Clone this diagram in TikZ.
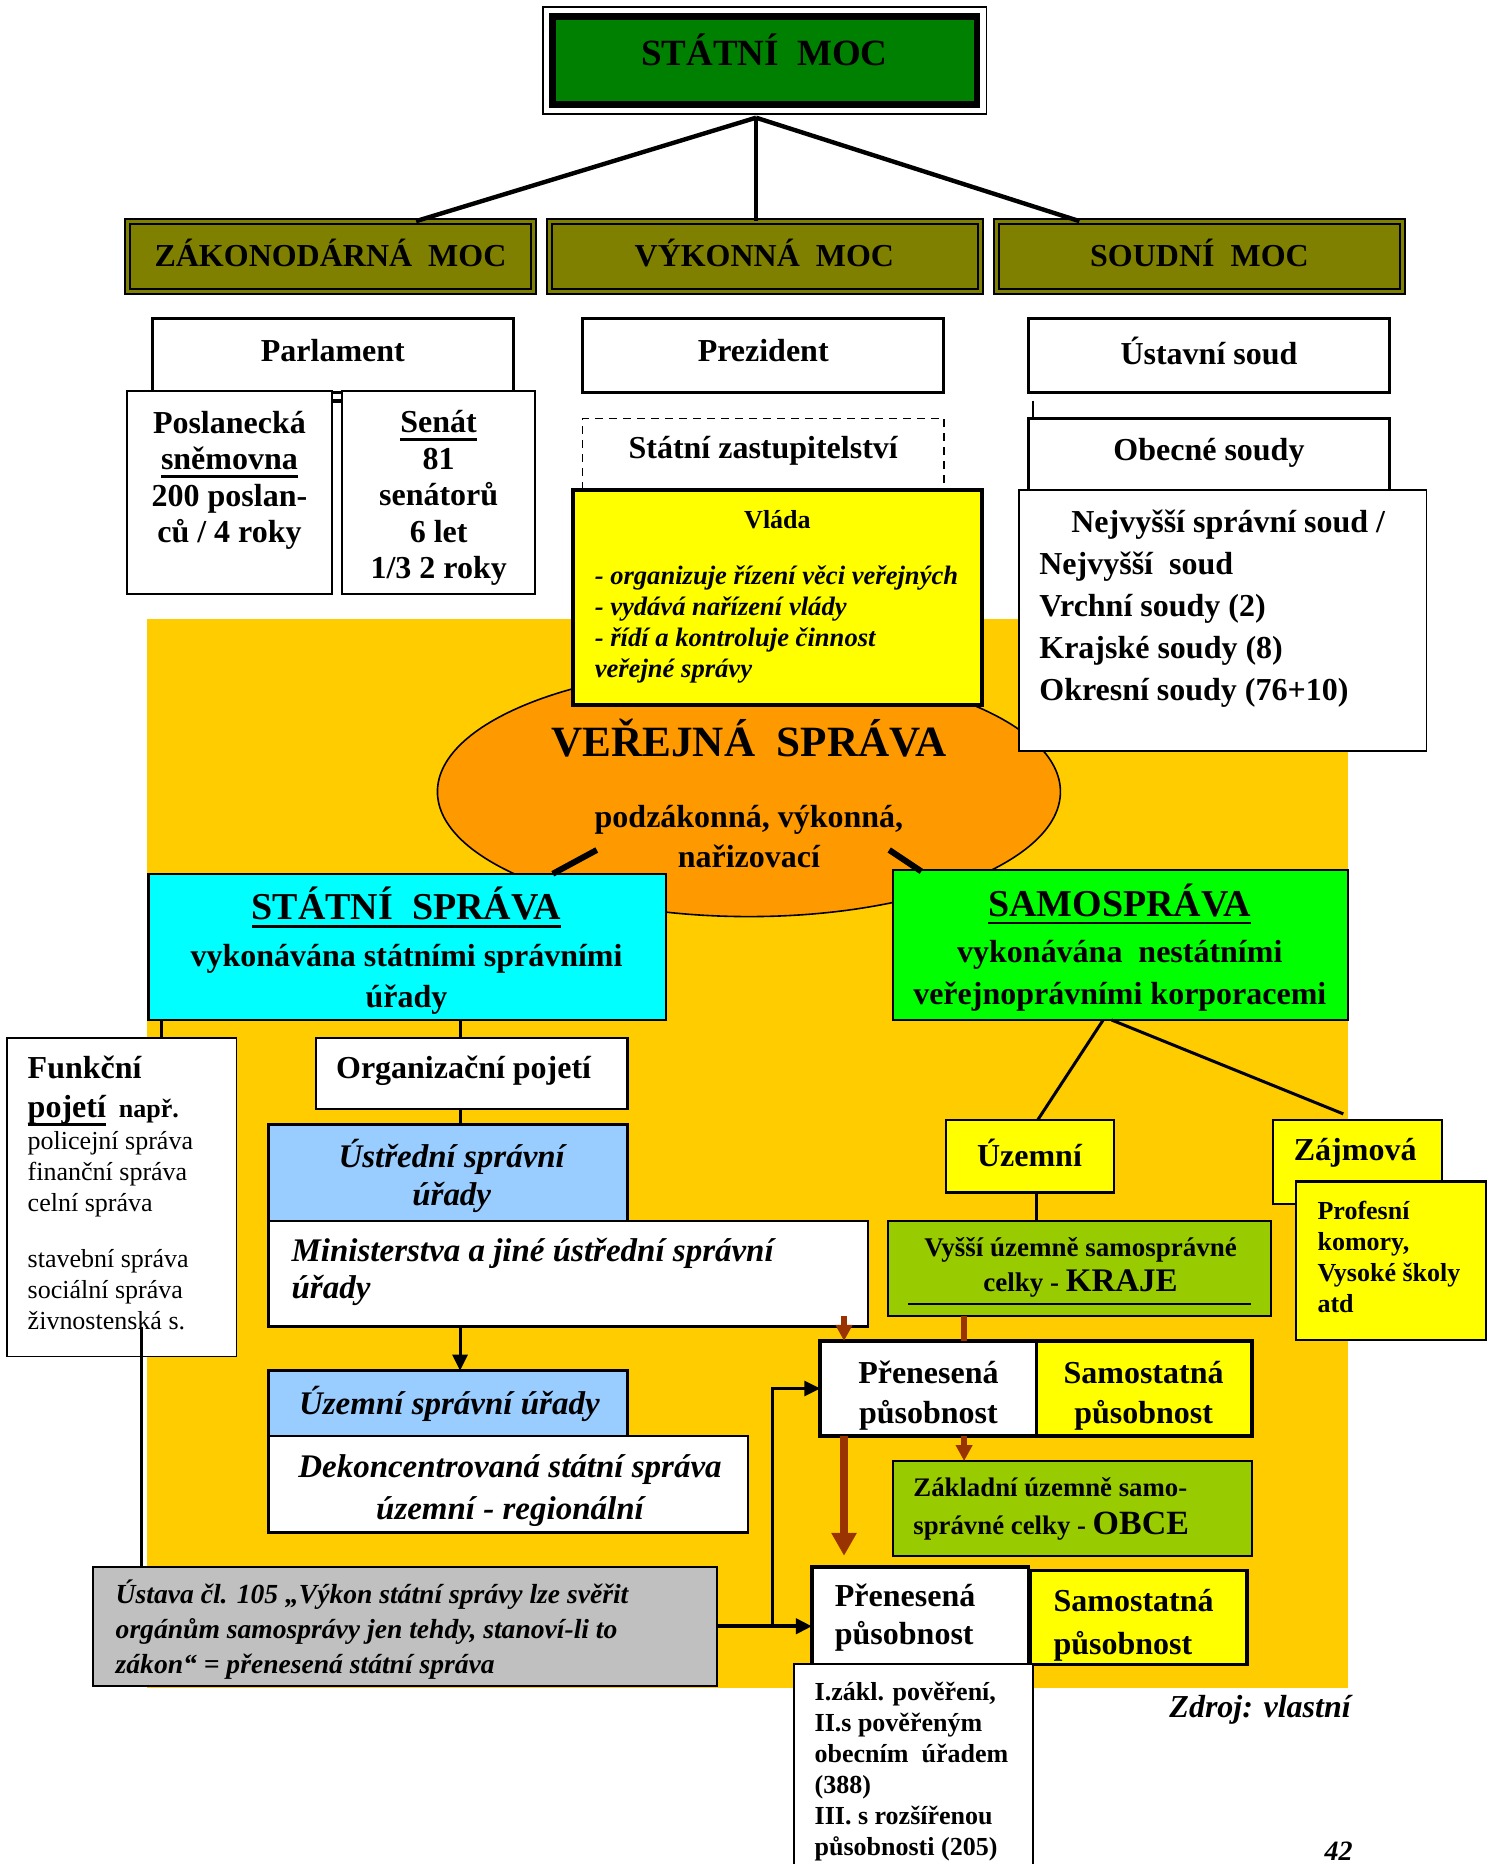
\documentclass[tikz,border=0pt]{standalone}
\usepackage{fontspec}
\setmainfont{Liberation Serif}
\usetikzlibrary{arrows.meta,fit,shapes.geometric,positioning}

\definecolor{mocgreen}{HTML}{008000}
\definecolor{mocolive}{HTML}{808000}
\definecolor{vsbg}{HTML}{FFCC00}
\definecolor{vsorange}{HTML}{FF9900}
\definecolor{ssblue}{HTML}{99CCFF}
\definecolor{sscyan}{HTML}{00FFFF}
\definecolor{samogreen}{HTML}{00FF00}
\definecolor{boxyellow}{HTML}{FFFF00}
\definecolor{krajgreen}{HTML}{99CC00}
\definecolor{arrowbrown}{HTML}{993300}
\definecolor{ustgray}{HTML}{C0C0C0}

\newsavebox{\ulbox}
\newcommand{\heavyul}[1]{\sbox{\ulbox}{#1}\rlap{\rule[-4pt]{\wd\ulbox}{1.3pt}}\usebox{\ulbox}}

\begin{document}
\begin{tikzpicture} [
    x=0.5946pt, y=-0.5946pt,
    frame/.style={inner sep=0pt, outer sep=0pt},
    powerbox/.style={frame, fill=mocolive, draw=black, line width=1pt, double=mocolive, double distance=1.4pt},
    plainbox/.style={frame, fill=white, draw=black, line width=1.5pt},
    thinbox/.style={frame, fill=white, draw=black, line width=0.9pt},
    colbox/.style={frame, draw=black, line width=1.2pt},
    thickbox/.style={frame, draw=black, line width=1.8pt},
    txt/.style={inner sep=0pt, font=\fontsize{16}{20}\selectfont\bfseries},
    smalltxt/.style={inner sep=0pt, font=\fontsize{13}{15.5}\selectfont\bfseries},
    itxt/.style={inner sep=0pt, font=\fontsize{16.5}{19}\selectfont\bfseries\itshape},
    link/.style={draw=black, line width=1.5pt},
    brownline/.style={draw=arrowbrown, line width=2.7pt},
    brownarrow/.style={brownline, -{Triangle[length=8pt,width=8pt]}},
    >={Triangle[length=8pt,width=7.5pt]}
    ]
    \useasboundingbox (0,0) rectangle (1258,1568);
    %Nodes
    \node[frame, fill=vsbg]          (bg)       [fit={(124,521) (1134,1420)}]  {};
    \node[thinbox, line width=0.8pt] (mocframe) [fit={(457,6) (830,96)}]       {};
    \node[frame, fill=mocgreen, draw=black, line width=3.3pt] (moc) [fit={(465,14) (822,88)}] {};
    \node[txt, font=\fontsize{18.5}{22}\selectfont\bfseries] (moctxt) at (643,42) {STÁTNÍ~~MOC};
    \node[powerbox]                  (zak)      [fit={(107,186) (449,245)}]    {};
    \node[powerbox]                  (vyk)      [fit={(462,186) (825,245)}]    {};
    \node[powerbox]                  (soud)     [fit={(838,186) (1180,245)}]   {};
    \node[txt, font=\fontsize{16}{18}\selectfont\bfseries] (zaktxt)  at (278,213)  {ZÁKONODÁRNÁ~~MOC};
    \node[txt, font=\fontsize{16}{18}\selectfont\bfseries] (vyktxt)  at (643,213)  {VÝKONNÁ~~MOC};
    \node[txt, font=\fontsize{16}{18}\selectfont\bfseries] (soudtxt) at (1009,213) {SOUDNÍ~~MOC};
    \node[plainbox]                  (parl)     [fit={(128,268) (432,330)}]    {};
    \node[plainbox]                  (prez)     [fit={(490,268) (794,330)}]    {};
    \node[plainbox]                  (ustav)    [fit={(865,268) (1169,330)}]   {};
    \node[txt]                       (parltxt)  at (280,295)                   {Parlament};
    \node[txt]                       (preztxt)  at (642,295)                   {Prezident};
    \node[txt]                       (ustavtxt) at (1017,295)                  {Ústavní soud};
    \node[thinbox]                   (posl)     [fit={(107,329) (279,500)}]    {};
    \node[thinbox]                   (senat)    [fit={(288,329) (450,500)}]    {};
    \node[txt, align=center, font=\fontsize{16}{18.3}\selectfont\bfseries] (posltxt) at (193,404) {Poslanecká\\ \heavyul{sněmovna}\\ 200 poslan-\\ ců / 4 roky};
    \node[txt, align=center, font=\fontsize{16}{18.3}\selectfont\bfseries] (senattxt) at (369,419) {\heavyul{Senát}\\ 81\\ senátorů\\ 6 let\\ 1/3 2 roky};
    \node[plainbox, line width=0.8pt, dash pattern=on 4pt off 3pt] (zast) [fit={(490,352) (794,432)}] {};
    \node[txt]                       (zasttxt)  at (642,379)                   {Státní zastupitelství};
    \node[plainbox]                  (obec)     [fit={(865,352) (1169,432)}]   {};
    \node[txt]                       (obectxt)  at (1017,381)                  {Obecné soudy};
    \coordinate                      (obectick) at (869,337);
    % public administration
    \node[frame, ellipse, fill=vsorange, draw=black, line width=0.8pt, minimum width=311.6pt, minimum height=124.9pt] (verejna) at (630,666) {};
    \node[txt, font=\fontsize{21.6}{25}\selectfont\bfseries] (verejnatxt) at (630,621) {VEŘEJNÁ~~SPRÁVA};
    \node[txt, align=center]         (verejnasub) at (630,704)                 {podzákonná, výkonná,\\ nařizovací};
    \node[thickbox, fill=boxyellow]  (vlada)    [fit={(482,412) (826,593)}]    {};
    \node[smalltxt]                  (vladatxt) at (654,437)                   {Vláda};
    \node[smalltxt, align=left, anchor=west, font=\fontsize{13.3}{15.5}\selectfont\bfseries\itshape] (vladaitems) at (500,525) {- organizuje řízení věci veřejných\\ - vydává nařízení vlády\\ - řídí a kontroluje činnost\\ veřejné správy};
    \node[thinbox]                   (courts)   [fit={(857,412) (1200,632)}]   {};
    \node[txt, align=left, anchor=west, font=\fontsize{16}{21}\selectfont\bfseries] (courtstxt) at (874,512) {\hspace*{16pt}Nejvyšší správní soud /\\ Nejvyšší~~soud\\ Vrchní soudy (2)\\ Krajské soudy (8)\\ Okresní soudy (76+10)};
    \coordinate                      (stubla)   at (502,715);
    \coordinate                      (stublb)   at (465,735);
    \coordinate                      (stubra)   at (748,715);
    \coordinate                      (stubrb)   at (775,733);
    \node[colbox, fill=sscyan]       (statni)   [fit={(125,735) (560,858)}]    {};
    \node[txt, align=center, font=\fontsize{16}{20.8}\selectfont\bfseries] (statnitxt) at (342,800) {{\fontsize{19}{20.8}\selectfont\heavyul{STÁTNÍ~~SPRÁVA}}\\[2.4pt] vykonávána státními správními\\ úřady};
    \node[colbox, fill=samogreen]    (samo)     [fit={(751,732) (1134,858)}]   {};
    \node[txt, align=center, font=\fontsize{16}{20.8}\selectfont\bfseries] (samotxt) at (942,797) {{\fontsize{19}{20.8}\selectfont\heavyul{SAMOSPRÁVA}}\\[2.4pt] vykonávána~~nestátními\\ veřejnoprávními korporacemi};
    % state administration
    \node[thinbox]                   (funk)     [fit={(6,873) (199,1141)}]     {};
    \node[smalltxt, align=left, anchor=north west] (funktxt) at (23,888) {{\fontsize{16}{15.5}\selectfont Funkční}\\[4.1pt]
        {\fontsize{16}{15.5}\selectfont\heavyul{pojetí}}~~např.\\[0.2pt]
        \mdseries policejní správa\\ \mdseries finanční správa\\ \mdseries celní správa\\[12.5pt]
        \mdseries stavební správa\\ \mdseries sociální správa\\ \mdseries živnostenská s.};
    \node[colbox, fill=white]        (org)      [fit={(266,873) (528,933)}]    {};
    \node[txt]                       (orgtxt)   at (390,901)                   {Organizační pojetí};
    \node[colbox, fill=ssblue]       (ustr)     [fit={(226,946) (528,1027)}]   {};
    \node[itxt, align=center]        (ustrtxt)  at (380,989)                   {Ústřední správní\\ úřady};
    \node[colbox, fill=white]        (mini)     [fit={(226,1027) (730,1116)}]  {};
    \node[itxt, align=left, anchor=west, font=\fontsize{16.5}{18.4}\selectfont\bfseries\itshape] (minitxt) at (245,1070) {Ministerstva a jiné ústřední správní\\ úřady};
    \node[colbox, fill=ssblue]       (uzsu)     [fit={(226,1153) (528,1208)}]  {};
    \node[itxt]                      (uzsutxt)  at (378,1181)                  {Územní správní úřady};
    \node[colbox, fill=white]        (dekon)    [fit={(226,1208) (629,1289)}]  {};
    \node[itxt, align=center, font=\fontsize{16.5}{20.8}\selectfont\bfseries\itshape] (dekontxt) at (429,1254) {Dekoncentrovaná státní správa\\ územní - regionální};
    \node[colbox, fill=ustgray]      (ustava)   [fit={(78,1318) (603,1418)}]   {};
    \node[smalltxt, align=left, anchor=west, font=\fontsize{13.8}{17.5}\selectfont\bfseries\itshape] (ustavatxt) at (97,1371) {Ústava čl. 105 „Výkon státní správy lze svěřit\\ orgánům samosprávy jen tehdy, stanoví-li to\\ zákon“ = přenesená státní správa};
    % self-government
    \node[colbox, fill=boxyellow]    (uzemni)   [fit={(796,942) (937,1003)}]   {};
    \node[txt]                       (uzemnitxt) at (866,970)                  {Územní};
    \node[colbox, fill=boxyellow]    (zajm)     [fit={(1071,942) (1213,1013)}] {};
    \node[txt]                       (zajmtxt)  at (1140,970)                  {Zájmová};
    \coordinate                      (zajmend)  at (1130,937);
    \node[colbox, fill=boxyellow]    (prof)     [fit={(1090,994) (1250,1127)}] {};
    \node[smalltxt, align=left, anchor=west] (proftxt) at (1108,1057)        {Profesní\\ komory,\\ Vysoké školy\\ atd};
    \node[colbox, fill=krajgreen]    (vyssi)    [fit={(747,1027) (1069,1107)}] {};
    \node[smalltxt, align=center, font=\fontsize{13.5}{17.3}\selectfont\bfseries] (vyssitxt) at (909,1066) {Vyšší územně samosprávné\\ celky - {\fontsize{16.5}{17.3}\selectfont KRAJE}};
    \node[thickbox, fill=white]      (pren1)    [fit={(690,1128) (872,1208)}]  {};
    \node[txt, align=center, font=\fontsize{16}{20.2}\selectfont\bfseries] (pren1txt) at (781,1174) {Přenesená\\ působnost};
    \node[thickbox, fill=boxyellow]  (samost1)  [fit={(872,1128) (1053,1208)}] {};
    \node[txt, align=center, font=\fontsize{16}{20.2}\selectfont\bfseries] (samost1txt) at (962,1174) {Samostatná\\ působnost};
    \node[colbox, fill=krajgreen]    (zakl)     [fit={(751,1229) (1053,1309)}] {};
    \node[smalltxt, align=left, anchor=west, font=\fontsize{13.4}{19}\selectfont\bfseries] (zakltxt) at (768,1269) {Základní územně samo-\\ správné celky - {\fontsize{17}{19}\selectfont OBCE}};
    \node[thickbox, fill=white]      (pren2)    [fit={(683,1318) (865,1400)}]  {};
    \node[txt, align=left, anchor=west, font=\fontsize{16}{19}\selectfont\bfseries] (pren2txt) at (702,1361) {Přenesená\\ působnost};
    \node[thickbox, fill=boxyellow]  (samost2)  [fit={(867,1321) (1049,1400)}] {};
    \node[txt, align=left, anchor=west, font=\fontsize{16}{21.4}\selectfont\bfseries] (samost2txt) at (886,1367) {Samostatná\\ působnost};
    \node[thinbox]                   (pover)    [fit={(668,1400) (869,1580)}]  {};
    \node[smalltxt, align=left, anchor=west] (povertxt) at (685,1490)        {I.zákl. pověření,\\ II.s pověřeným\\ obecním~~úřadem\\ (388)\\ III. s rozšířenou\\ působnosti (205)};
    \node[txt, font=\fontsize{16}{20}\selectfont\bfseries\itshape] (zdroj) at (1060,1438) {Zdroj: vlastní};
    \node[txt, font=\fontsize{14}{16}\selectfont\bfseries\itshape, anchor=base] (pagenum) at (1126,1565) {42};
    \coordinate                      (mocroot)  at (636,99);
    \coordinate                      (funkline) at (119,1116);
    \coordinate                      (minibrown) at (710,1107);
    %Lines
    \draw[line width=2.2pt] (mocroot) -- (350,0 |- zak.north);
    \draw[line width=1.6pt] (mocroot) -- (mocroot |- vyk.north);
    \draw[line width=2.2pt] (mocroot) -- (908,0 |- soud.north);
    \draw[line width=2pt] ([yshift=-4.8pt]posl.north east) -- ([yshift=-4.8pt]senat.north west);
    \draw[line width=0.8pt] (obectick) -- (obectick |- obec.north);
    \draw[line width=3pt] (stubla) -- (stublb);
    \draw[line width=3pt] (stubra) -- (stubrb);
    \draw[link] (136,0 |- statni.south) -- (136,0 |- funk.north);
    \draw[link] (387,0 |- statni.south) -- (387,0 |- org.north);
    \draw[link] (387,0 |- org.south) -- (387,0 |- ustr.north);
    \draw[link, ->] (387,0 |- mini.south) -- (387,0 |- uzsu.north);
    \draw[link] (funkline) -- (funkline |- ustava.north);
    \draw[link, line width=2pt, ->] (ustava.east) -- (ustava.east -| pren2.west);
    \draw[link, ->] (650,0 |- ustava.east) |- (pren1.west);
    \draw[link] (928,0 |- samo.south) -- (873,0 |- uzemni.north);
    \draw[link] (935,0 |- samo.south) -- (zajmend);
    \draw[link] (872,0 |- uzemni.south) -- (872,0 |- vyssi.north);
    \draw[line width=1pt] (764,1097) -- (1052,1097);
    \draw[brownarrow] (minibrown) -- (minibrown |- pren1.north);
    \draw[brownline] (811,0 |- vyssi.south) -- (811,0 |- pren1.north);
    \draw[brownarrow] (811,0 |- pren1.south) -- (811,0 |- zakl.north);
    \draw[brownline, line width=3.6pt, -{Triangle[length=11.5pt,width=12pt]}, shorten >=5.5pt] (710,0 |- pren1.south) -- (710,0 |- pren2.north);
\end{tikzpicture}
\end{document}
